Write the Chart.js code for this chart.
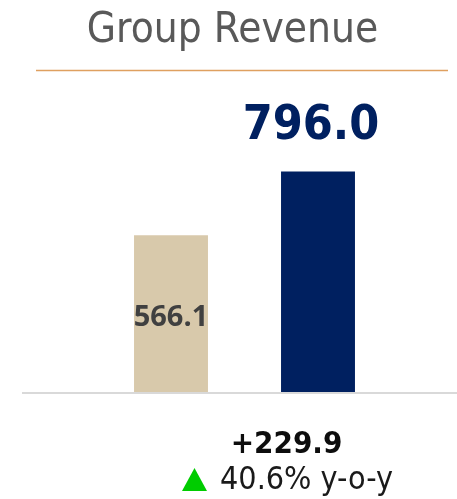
<!DOCTYPE html>
<html lang="en">
<head>
    <meta charset="UTF-8">
    <title>Group Revenue</title>
    <script src="https://cdn.jsdelivr.net/npm/chart.js"></script>
    <style>
        html, body { margin: 0; padding: 0; background: #ffffff; }
        .wrap { width: 457px; height: 499px; position: relative; }
    </style>
</head>
<body>
    <div class="wrap"><canvas id="revChart"></canvas></div>

    <script>
        // Chart data
        const categories = ["Prior year", "Current year"];
        const revenue = [566.1, 796.0];
        const barColors = ["#D8C9AB", "#002060"];
        const titleText = "Group Revenue";

        const delta = revenue[1] - revenue[0];
        const pct = delta / revenue[0] * 100;

        const COND = "'DejaVu Sans Condensed', 'DejaVu Sans', sans-serif";

        // Draws the heading, rules, value labels and the y-o-y change
        const overlay = {
            id: "overlay",
            afterDraw(chart) {
                const ctx = chart.ctx;
                const bars = chart.getDatasetMeta(0).data;
                const base = chart.scales.y.getPixelForValue(0);
                ctx.save();

                // title
                ctx.fillStyle = "#595959";
                ctx.font = "42px " + COND;
                ctx.textAlign = "center";
                ctx.textBaseline = "alphabetic";
                ctx.fillText(titleText, 232.5, 42);

                // orange rule under the title
                ctx.strokeStyle = "#DFA060";
                ctx.lineWidth = 1.5;
                ctx.beginPath();
                ctx.moveTo(36, 70.5);
                ctx.lineTo(448, 70.5);
                ctx.stroke();

                // baseline
                ctx.fillStyle = "#D9D9D9";
                ctx.fillRect(22, base, chart.width - 22, 2);

                // value labels
                ctx.fillStyle = "#404040";
                ctx.font = "bold 29px 'Open Sans', 'Liberation Sans', sans-serif";
                ctx.fillText(revenue[0].toFixed(1), bars[0].x, bars[0].y + 91);

                ctx.fillStyle = "#002060";
                ctx.font = "bold 48px " + COND;
                ctx.fillText(revenue[1].toFixed(1), bars[1].x - 7, bars[1].y - 33);

                // change
                ctx.fillStyle = "#0D0D0D";
                ctx.font = "bold 31px " + COND;
                ctx.fillText("+" + delta.toFixed(1), 286.5, 453);

                ctx.fillStyle = "#00CC00";
                ctx.beginPath();
                ctx.moveTo(182, 491);
                ctx.lineTo(207, 491);
                ctx.lineTo(194.5, 468);
                ctx.closePath();
                ctx.fill();

                ctx.fillStyle = "#1A1A1A";
                ctx.font = "32px " + COND;
                ctx.textAlign = "left";
                ctx.fillText(pct.toFixed(1) + "% y-o-y", 220, 489);

                ctx.restore();
            }
        };

        new Chart(document.getElementById("revChart"), {
            type: "bar",
            data: {
                labels: categories,
                datasets: [{
                    data: revenue,
                    backgroundColor: barColors,
                    barPercentage: 0.503,
                    categoryPercentage: 1.0
                }]
            },
            options: {
                responsive: true,
                maintainAspectRatio: false,
                animation: false,
                layout: { padding: { left: 97.5, right: 65.5, top: 115, bottom: 107 } },
                plugins: {
                    legend: { display: false },
                    tooltip: { enabled: false }
                },
                scales: {
                    x: { display: false },
                    y: { display: false, min: 0, max: 1000 }
                }
            },
            plugins: [overlay]
        });
    </script>
</body>
</html>
